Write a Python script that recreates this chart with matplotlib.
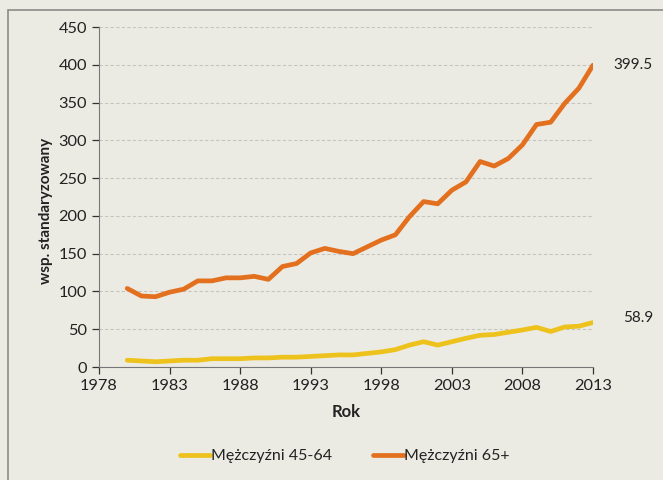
import matplotlib.pyplot as plt
from matplotlib.patches import Rectangle

plt.rcParams['font.family'] = ['Lato', 'DejaVu Sans']

years = list(range(1980, 2014))
men_45_64 = [9, 8, 7, 8, 9, 9, 11, 11, 11, 12, 12, 13, 13, 14, 15, 16, 16,
             18, 20, 23, 29, 33.5, 29, 33.5, 38, 42, 43, 46, 49, 52.5, 47,
             53, 54, 58.9]
men_65 = [104, 94, 93, 99, 103, 114, 114, 118, 118, 120, 116, 133, 137, 151,
          157, 153, 150, 159, 168, 175, 199, 219, 216, 234, 245, 272, 266,
          276, 294, 321, 324, 349, 369, 399.5]
labels = ['Mężczyźni 45-64', 'Mężczyźni 65+']
colors = ['#eec21c', '#e2701e']

bg = '#ecebe3'
fig = plt.figure(figsize=(6.63, 4.8), dpi=100, facecolor=bg)
ax = fig.add_axes([0.1493, 0.2354, 0.7451, 0.7083], facecolor=bg)

# chart frame from the scan
fig.patches.append(Rectangle((8 / 663, -0.05), 1.1, 1 - 10 / 480 + 0.05,
                             transform=fig.transFigure, fill=False,
                             edgecolor='#8a8a88', linewidth=1.2))

for vals, lab, c in zip([men_45_64, men_65], labels, colors):
    ax.plot(years, vals, color=c, linewidth=3.4, label=lab,
            solid_capstyle='round', solid_joinstyle='round')

ax.set_xlim(1978, 2013)
ax.set_ylim(0, 450)
ax.set_xticks(range(1978, 2014, 5))
ax.set_yticks(range(0, 451, 50))
ax.tick_params(labelsize=11.8, colors='#333333', length=5, width=0.9,
               labelcolor='#222222')
ax.grid(axis='y', color='#c4c4c0', linestyle=(0, (3, 2)), linewidth=0.8)
ax.set_axisbelow(True)
for s in ['top', 'right']:
    ax.spines[s].set_visible(False)
for s in ['left', 'bottom']:
    ax.spines[s].set_color('#777777')

ax.set_xlabel('Rok', fontsize=12, fontweight='bold', color='#222222',
              labelpad=8)
ax.set_ylabel('wsp. standaryzowany', fontsize=11, fontweight='bold',
              color='#222222')
ax.yaxis.set_label_coords(-0.093, 0.46)

ax.annotate(f'{men_65[-1]}', (years[-1], men_65[-1]), xytext=(15, 0),
            textcoords='offset points', fontsize=11, va='center',
            color='#222222', annotation_clip=False)
ax.annotate(f'{men_45_64[-1]}', (years[-1], men_45_64[-1]), xytext=(22, 3),
            textcoords='offset points', fontsize=11, va='center',
            color='#222222', annotation_clip=False)

fig.legend(loc='center', bbox_to_anchor=(0.52, 0.05), ncol=2, frameon=False,
           fontsize=11.5, handlelength=1.9, handletextpad=0.05,
           columnspacing=2.6, labelcolor='#222222')

fig.savefig('out.png', dpi=100, facecolor=bg)
